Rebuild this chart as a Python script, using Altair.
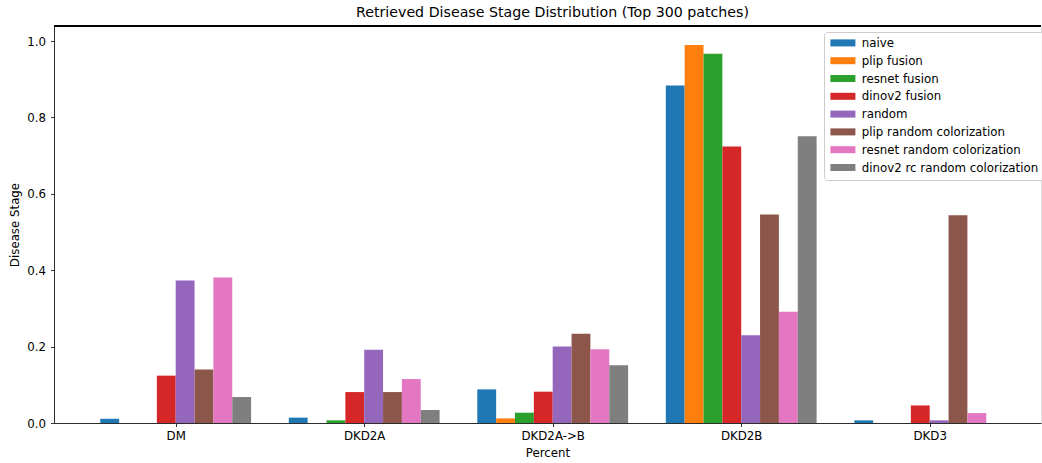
import json
import altair as alt
import pandas as pd

# Disease stages on the x axis, one group of bars per stage
stages = ["DM", "DKD2A", "DKD2A->B", "DKD2B", "DKD3"]

# Retrieval methods (one bar per method inside each group)
methods = [
    "naive",
    "plip fusion",
    "resnet fusion",
    "dinov2 fusion",
    "random",
    "plip random colorization",
    "resnet random colorization",
    "dinov2 rc random colorization",
]
colors = ["#1f77b4", "#ff7f0e", "#2ca02c", "#d62728",
          "#9467bd", "#8c564b", "#e377c2", "#7f7f7f"]

# Fraction of retrieved patches per stage, for each method
naive = [0.011, 0.014, 0.088, 0.884, 0.007]
plip_fusion = [0.0, 0.0, 0.012, 0.990, 0.0]
resnet_fusion = [0.0, 0.007, 0.027, 0.967, 0.0]
dinov2_fusion = [0.124, 0.081, 0.082, 0.724, 0.046]
random_baseline = [0.373, 0.192, 0.200, 0.230, 0.007]
plip_random_colorization = [0.140, 0.081, 0.234, 0.546, 0.544]
resnet_random_colorization = [0.381, 0.115, 0.193, 0.291, 0.026]
dinov2_rc_random_colorization = [0.068, 0.034, 0.151, 0.751, 0.0]

series = [naive, plip_fusion, resnet_fusion, dinov2_fusion, random_baseline,
          plip_random_colorization, resnet_random_colorization,
          dinov2_rc_random_colorization]

y_ticks = [0.0, 0.2, 0.4, 0.6, 0.8, 1.0]

BAR_W = 0.1
n = len(methods)
rows = []
for k, (name, vals) in enumerate(zip(methods, series)):
    for i, (stage, v) in enumerate(zip(stages, vals)):
        center = i + (k - (n - 1) / 2) * BAR_W
        rows.append({
            "method": name,
            "stage": stage,
            "x0": center - BAR_W / 2,
            "x1": center + BAR_W / 2,
            "base": 0.0,
            "value": v,
        })
df = pd.DataFrame(rows)

FONT = "DejaVu Sans"
FS = 11.8
W, H = 987, 397

label_expr = json.dumps(stages) + "[datum.value]"

axis_style = dict(
    grid=False,
    domainColor="black",
    domainWidth=0.8,
    tickColor="black",
    tickSize=3.5,
    tickWidth=0.8,
    labelFontSize=FS,
    labelFont=FONT,
    labelColor="black",
    titleFont=FONT,
    titleFontSize=FS,
    titleFontWeight="normal",
    titleColor="black",
)

bars = alt.Chart(df).mark_bar(stroke=None).encode(
    x=alt.X(
        "x0:Q",
        scale=alt.Scale(domain=[-0.6456, 4.5904], nice=False, zero=False),
        axis=alt.Axis(
            values=list(range(len(stages))),
            labelExpr=label_expr,
            title="Percent",
            labelPadding=3.5,
            titlePadding=6,
            **axis_style,
        ),
    ),
    x2="x1:Q",
    y=alt.Y(
        "value:Q",
        scale=alt.Scale(domain=[0, 1.0395], nice=False, padding=0),
        axis=alt.Axis(
            values=y_ticks,
            format=".1f",
            title="Disease Stage",
            labelPadding=5,
            titlePadding=6,
            **axis_style,
        ),
    ),
    y2="base:Q",
    color=alt.Color(
        "method:N",
        sort=methods,
        scale=alt.Scale(domain=methods, range=colors),
        legend=alt.Legend(
            title=None,
            orient="none",
            legendX=770,
            legendY=6,
            symbolType="M-2.5,-0.7L2.5,-0.7L2.5,0.7L-2.5,0.7Z",
            symbolSize=100,
            symbolStrokeWidth=0,
            symbolOpacity=1,
            symbolOffset=8,
            labelOffset=13,
            labelFontSize=FS,
            labelFont=FONT,
            labelColor="black",
            labelLimit=0,
            rowPadding=4.8,
            padding=5,
            strokeColor="#cccccc",
            fillColor="rgba(255,255,255,0.8)",
            cornerRadius=3,
        ),
    ),
)

# top frame line of the axes box
top_spine = alt.Chart(df).mark_rule(color="black", strokeWidth=0.8).encode(
    x=alt.value(0), x2=alt.value(W), y=alt.value(0)
)

chart = alt.layer(bars, top_spine).properties(
    width=W,
    height=H,
    title=alt.TitleParams(
        "Retrieved Disease Stage Distribution (Top 300 patches)",
        font=FONT,
        fontSize=14.2,
        fontWeight="normal",
        color="black",
        anchor="middle",
        offset=5,
        dx=5,
    ),
    autosize="none",
    padding={"left": 54, "top": 26, "right": 1, "bottom": 40},
).configure_view(stroke=None).configure(background="white")

chart.save("out.html", embed_options={"renderer": "svg", "actions": False})
